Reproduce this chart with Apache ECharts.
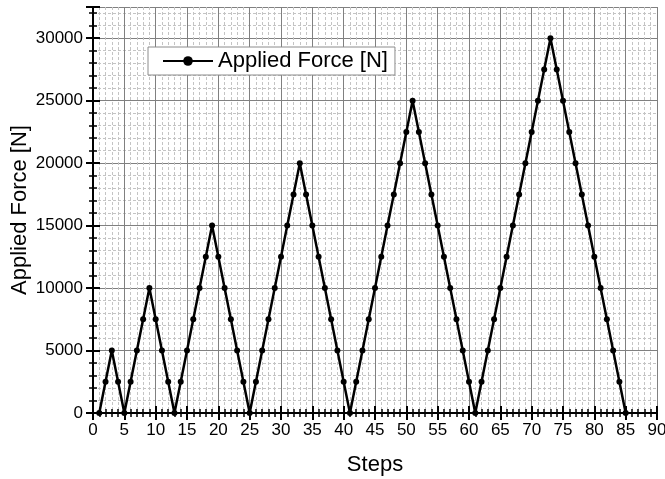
<!DOCTYPE html>
<html>
<head>
<meta charset="utf-8">
<script src="https://cdn.jsdelivr.net/npm/echarts@6/dist/echarts.min.js"></script>
<style>
  html, body { margin: 0; padding: 0; background: #fff; }
  #chart { width: 665px; height: 479px; }
</style>
</head>
<body>
<div id="chart"></div>
<script>
// steps 1..85
var steps = [];
for (var s = 1; s <= 85; s++) steps.push(s);

var force = [
    0, 2500, 5000, 2500, 0,
    2500, 5000, 7500, 10000, 7500, 5000, 2500, 0,
    2500, 5000, 7500, 10000, 12500, 15000, 12500, 10000, 7500, 5000, 2500, 0,
    2500, 5000, 7500, 10000, 12500, 15000, 17500, 20000, 17500, 15000, 12500, 10000, 7500, 5000, 2500, 0,
    2500, 5000, 7500, 10000, 12500, 15000, 17500, 20000, 22500, 25000,
    22500, 20000, 17500, 15000, 12500, 10000, 7500, 5000, 2500, 0,
    2500, 5000, 7500, 10000, 12500, 15000, 17500, 20000, 22500, 25000, 27500, 30000,
    27500, 25000, 22500, 20000, 17500, 15000, 12500, 10000, 7500, 5000, 2500, 0
];

var yTicks = [0, 5000, 10000, 15000, 20000, 25000, 30000];

var seriesName = "Applied Force [N]";
var xName = "Steps";
var yName = "Applied Force [N]";

var points = [];
for (var i = 0; i < steps.length; i++) {
    points.push([steps[i], force[i]]);
}

var chart = echarts.init(document.getElementById("chart"));

var font = "Liberation Sans, Arial, sans-serif";

var axisLine = { show: true, lineStyle: { color: "#000", width: 2 } };
var majorTick = { show: true, inside: true, length: 7, lineStyle: { color: "#000", width: 2 } };
var minorTick = { show: true, splitNumber: 5, length: 4, lineStyle: { color: "#000", width: 1.5 } };

var option = {
    animation: false,
    grid: { left: 93, right: 8, top: 7, bottom: 66, containLabel: false, outerBoundsMode: "none" },
    legend: {
        data: [seriesName],
        left: 148,
        top: 47,
        padding: [3, 7, 3, 14],
        borderColor: "#8c8c8c",
        borderWidth: 1,
        backgroundColor: "#fff",
        itemWidth: 50,
        itemHeight: 12,
        itemGap: 6,
        textStyle: { fontFamily: font, fontSize: 22, color: "#000" }
    },
    xAxis: [
        {
            type: "value",
            min: 0, max: 90, interval: 5,
            name: xName,
            nameLocation: "middle",
            nameGap: 41,
            nameMoveOverlap: false,
            nameTextStyle: { fontFamily: font, fontSize: 22, color: "#000" },
            axisLine: axisLine,
            axisTick: majorTick,
            minorTick: minorTick,
            axisLabel: { fontFamily: font, fontSize: 17, color: "#000", margin: 9 },
            splitLine: { show: true, lineStyle: { color: "#808080", width: 1 } },
            minorSplitLine: { show: true, lineStyle: { color: "#c4c4c4", width: 1, type: [3, 2] } }
        },
        {
            type: "value",
            position: "top",
            min: 0, max: 90, interval: 5,
            axisLine: axisLine,
            axisTick: majorTick,
            minorTick: minorTick,
            axisLabel: { show: false },
            splitLine: { show: false }
        }
    ],
    yAxis: [
        {
            type: "value",
            min: 0, max: 32500, interval: 5000,
            name: yName,
            nameLocation: "middle",
            nameGap: 62,
            nameMoveOverlap: false,
            nameTextStyle: { fontFamily: font, fontSize: 22, color: "#000" },
            axisLine: axisLine,
            axisTick: majorTick,
            minorTick: minorTick,
            axisLabel: {
                fontFamily: font, fontSize: 17, color: "#000", margin: 10,
                formatter: function (v) {
                    return yTicks.indexOf(v) >= 0 ? String(v) : "";
                }
            },
            splitLine: { show: true, lineStyle: { color: "#808080", width: 1 } },
            minorSplitLine: { show: true, lineStyle: { color: "#c4c4c4", width: 1, type: [3, 2] } }
        },
        {
            type: "value",
            position: "right",
            min: 0, max: 32500, interval: 5000,
            axisLine: axisLine,
            axisTick: majorTick,
            minorTick: minorTick,
            axisLabel: { show: false },
            splitLine: { show: false }
        }
    ],
    series: [
        {
            name: seriesName,
            type: "line",
            data: points,
            xAxisIndex: 0,
            yAxisIndex: 0,
            symbol: "circle",
            symbolSize: 6,
            itemStyle: { color: "#000" },
            lineStyle: { color: "#000", width: 2.5 },
            z: 5
        }
    ]
};

chart.setOption(option);
</script>
</body>
</html>
